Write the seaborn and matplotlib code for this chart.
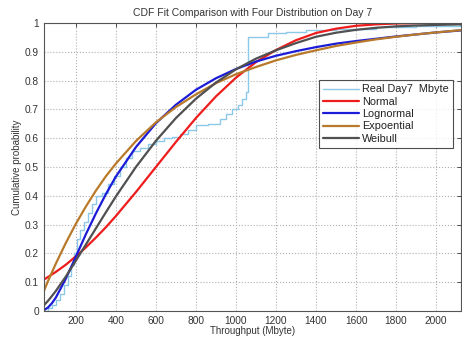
import matplotlib
matplotlib.use("Agg")
import matplotlib.pyplot as plt
import seaborn as sns
import pandas as pd

# ---- data ----
fit_x = [40, 60, 80, 100, 150, 200, 250, 300, 350, 400, 500, 600, 700, 800, 900,
         1000, 1100, 1200, 1300, 1400, 1500, 1600, 1700, 1800, 1900, 2000, 2125]
normal_y = [0.109, 0.118, 0.127, 0.136, 0.161, 0.190, 0.221, 0.255, 0.291, 0.330,
            0.413, 0.500, 0.587, 0.670, 0.745, 0.810, 0.864, 0.906, 0.940, 0.965,
            0.980, 0.990, 0.995, 0.998, 0.999, 1.000, 1.000]
lognormal_y = [0.003, 0.012, 0.027, 0.047, 0.113, 0.189, 0.267, 0.339, 0.406, 0.467,
               0.569, 0.652, 0.716, 0.768, 0.808, 0.840, 0.866, 0.886, 0.902, 0.916,
               0.928, 0.937, 0.945, 0.953, 0.960, 0.967, 0.974]
expo_y = [0.070, 0.103, 0.134, 0.165, 0.237, 0.303, 0.363, 0.418, 0.468, 0.512,
          0.590, 0.655, 0.708, 0.752, 0.791, 0.822, 0.847, 0.870, 0.889, 0.905,
          0.920, 0.932, 0.943, 0.952, 0.960, 0.967, 0.975]
weibull_y = [0.020, 0.035, 0.052, 0.070, 0.120, 0.175, 0.231, 0.287, 0.343, 0.398,
             0.500, 0.591, 0.670, 0.737, 0.793, 0.839, 0.876, 0.905, 0.930, 0.952,
             0.966, 0.976, 0.983, 0.988, 0.991, 0.993, 0.995]

real_x = [40, 60, 80, 100, 120, 140, 160, 175, 190, 205, 220, 240, 260, 280, 300,
          330, 360, 390, 420, 450, 480, 520, 560, 600, 640, 680, 720, 760, 800,
          860, 920, 950, 980, 1010, 1030, 1050, 1060, 1160, 1250, 1350, 1500,
          1700, 1900, 2120, 2125]
real_y = [0.0, 0.01, 0.02, 0.04, 0.06, 0.09, 0.12, 0.16, 0.20, 0.25, 0.28, 0.31,
          0.34, 0.37, 0.40, 0.41, 0.44, 0.47, 0.50, 0.53, 0.555, 0.565, 0.58, 0.59,
          0.60, 0.605, 0.615, 0.63, 0.645, 0.65, 0.665, 0.685, 0.70, 0.715, 0.735,
          0.76, 0.95, 0.965, 0.97, 0.975, 0.98, 0.985, 0.99, 1.0, 1.0]

labels = ["Real Day7  Mbyte", "Normal", "Lognormal", "Expoential", "Weibull"]
x_ticks = [200, 400, 600, 800, 1000, 1200, 1400, 1600, 1800, 2000]
y_ticks = [0, 0.1, 0.2, 0.3, 0.4, 0.5, 0.6, 0.7, 0.8, 0.9, 1]

colors = ["#8cc8e8", "#ee1c1c", "#1c1cd8", "#b87a2a", "#505050"]

sns.set_style("white")
plt.rcParams["font.family"] = ["Liberation Sans", "DejaVu Sans"]

fig = plt.figure(figsize=(4.62, 3.37), dpi=100)
ax = fig.add_axes([0.095, 0.077, 0.903, 0.855])

real_df = pd.DataFrame({"x": real_x, "y": real_y})
fits = [normal_y, lognormal_y, expo_y, weibull_y]

sns.lineplot(data=real_df, x="x", y="y", ax=ax, color=colors[0], lw=1.0,
             drawstyle="steps-post", label=labels[0], estimator=None, sort=False)
for ys, c, lab in zip(fits, colors[1:], labels[1:]):
    df = pd.DataFrame({"x": fit_x, "y": ys})
    sns.lineplot(data=df, x="x", y="y", ax=ax, color=c, lw=1.6, label=lab,
                 estimator=None, sort=False)

ax.set_xlim(40, 2125)
ax.set_ylim(0, 1)
ax.set_xticks(x_ticks)
ax.set_yticks(y_ticks)
ax.set_yticklabels([f"{v:g}" for v in y_ticks])
ax.grid(True, linestyle=":", color="#b0b0b0", lw=0.8)
ax.tick_params(direction="in", length=3, width=0.6, labelsize=7.3, colors="#333333",
               top=True, right=True, labelcolor="#333333")
for s in ax.spines.values():
    s.set_color("#555555")
    s.set_linewidth(0.8)

ax.set_xlabel("Throughput (Mbyte)", fontsize=7, color="#333333", labelpad=0)
ax.set_ylabel("Cumulative probability", fontsize=7, color="#333333", labelpad=2)
ax.set_title("CDF Fit Comparison with Four Distribution on Day 7", fontsize=7.5,
             color="#333333", pad=5)

leg = ax.legend(loc="upper right", bbox_to_anchor=(0.981, 0.802), fontsize=7.8,
                frameon=True, fancybox=False, handlelength=3.3, labelspacing=0.22,
                borderpad=0.4, handletextpad=0.3, borderaxespad=0)
leg.get_frame().set_edgecolor("#222222")
leg.get_frame().set_linewidth(0.8)
for t in leg.get_texts():
    t.set_color("#222222")

fig.savefig("out.png", dpi=100)
